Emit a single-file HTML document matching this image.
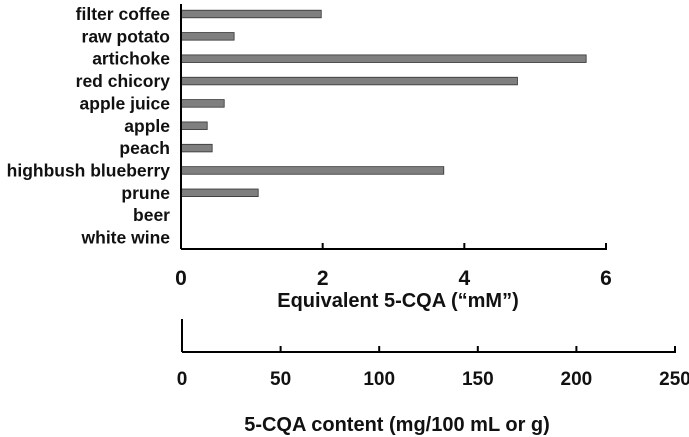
<!DOCTYPE html>
<html><head><meta charset="utf-8"><style>
html,body{margin:0;padding:0;background:#fff;}
svg{display:block;font-family:"Liberation Sans",Arial,sans-serif;font-weight:bold;}
</style></head><body>
<svg id="chart" width="689" height="437" viewBox="0 0 689 437" xmlns="http://www.w3.org/2000/svg"></svg>
<script>
const categories=["filter coffee","raw potato","artichoke","red chicory","apple juice","apple","peach","highbush blueberry","prune","beer","white wine"];
const values=[1.98,0.75,5.72,4.75,0.61,0.37,0.44,3.71,1.09,0,0];
const topTicks=[0,2,4,6];
const bottomTicks=[0,50,100,150,200,250];
const NS="http://www.w3.org/2000/svg";
const svg=document.getElementById('chart');
function el(t,a,p){const e=document.createElementNS(NS,t);for(const k in a)e.setAttribute(k,a[k]);(p||svg).appendChild(e);return e;}
const x0=181,x1=606,axisY=249,axisTop=4;
const xs=v=>x0+(v-0)/(6-0)*(x1-x0);
const rowY=i=>14+i*22.35;
const xb=v=>182+v/250*(675-182);
categories.forEach((c,i)=>{
  const t=el('text',{x:170,y:rowY(i)+6,'text-anchor':'end','font-size':17.5,fill:'#111'});
  t.textContent=c;
  
  
  if(values[i]>0){
    const r=el('rect',{x:x0,y:rowY(i)-3.8,width:xs(values[i])-x0,height:7.6,fill:'#7f7f7f',stroke:'#333','stroke-width':0.8});
    
    
  }
});
const ya=el('line',{x1:x0,y1:axisTop,x2:x0,y2:axisY,stroke:'#000','stroke-width':2});


const xa=el('line',{x1:x0,y1:axisY,x2:x1+1,y2:axisY,stroke:'#000','stroke-width':2});


topTicks.forEach(v=>{
  const tk=el('line',{x1:xs(v),y1:axisY-6,x2:xs(v),y2:axisY,stroke:'#000','stroke-width':2});
  
  
  const t=el('text',{x:xs(v),y:285,'text-anchor':'middle','font-size':21,fill:'#111'});
  t.textContent=v;
  
  
});
const t1=el('text',{x:398,y:307,'text-anchor':'middle','font-size':20,fill:'#111'});
t1.textContent="Equivalent 5-CQA (\u201CmM\u201D)";


const by=352;
const bl=el('line',{x1:182,y1:319,x2:182,y2:by,stroke:'#000','stroke-width':2});


const ba=el('line',{x1:182,y1:by,x2:676,y2:by,stroke:'#000','stroke-width':2});


bottomTicks.forEach(v=>{
  const tk=el('line',{x1:xb(v),y1:by-6,x2:xb(v),y2:by,stroke:'#000','stroke-width':2});
  
  
  const t=el('text',{x:xb(v),y:385,'text-anchor':'middle','font-size':19,fill:'#111'});
  t.textContent=v;
  
  
});
const t2=el('text',{x:397,y:431,'text-anchor':'middle','font-size':20,fill:'#111'});
t2.textContent="5-CQA content (mg/100 mL or g)";


</script>
</body></html>
